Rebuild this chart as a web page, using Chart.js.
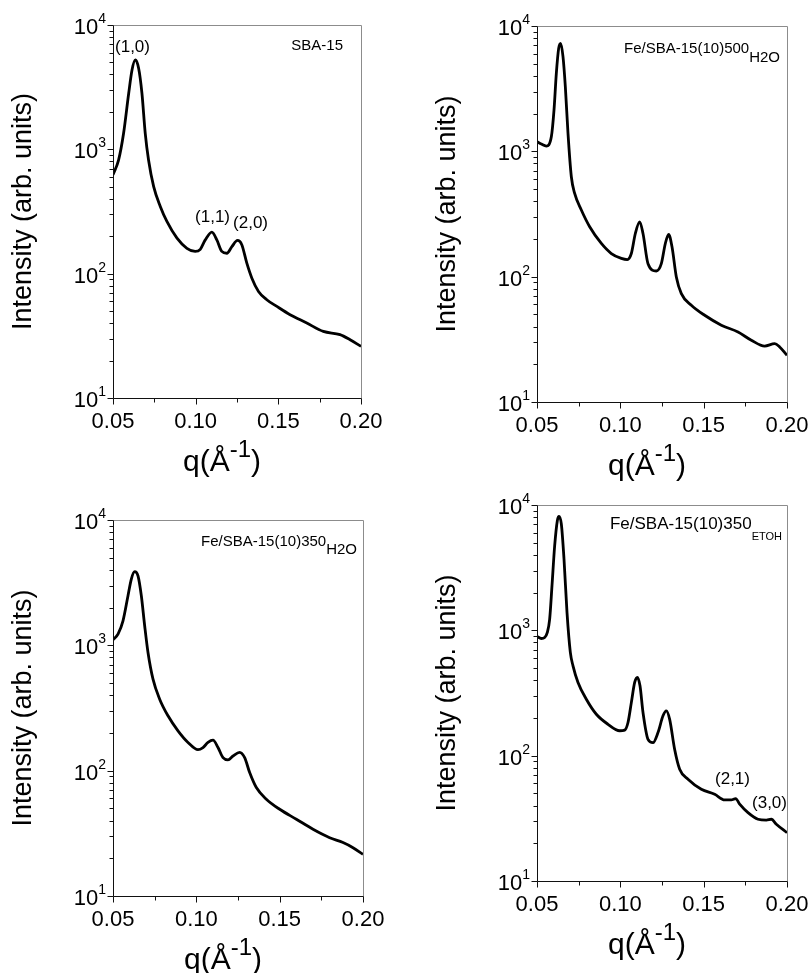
<!DOCTYPE html>
<html lang="en">
<head>
  <meta charset="UTF-8" />
  <title>SAXS patterns</title>
  <script src="https://cdn.jsdelivr.net/npm/chart.js"></script>
  <style>
    body { margin: 0; background: #fff; }
    #wrap { position: relative; width: 810px; height: 973px; }
    #wrap canvas { position: absolute; }
  </style>
</head>
<body>
  <div id="wrap">
    <canvas id="c1" width="405" height="486" style="left:0px;top:0px"></canvas>
    <canvas id="c2" width="405" height="486" style="left:405px;top:0px"></canvas>
    <canvas id="c3" width="405" height="487" style="left:0px;top:486px"></canvas>
    <canvas id="c4" width="405" height="487" style="left:405px;top:486px"></canvas>
  </div>

  <script>
    const FONT = "'Liberation Sans', Arial, sans-serif";

    // axis ticks
    const qTickLabels = ['0.05', '0.10', '0.15', '0.20'];
    const decades = [10, 100, 1000, 10000];

    // SBA-15
    const qSBA = [0.05, 0.0534, 0.0564, 0.0595, 0.0615, 0.0635, 0.0655, 0.0675, 0.0695, 0.0715,
      0.0746, 0.0786, 0.0826, 0.0887, 0.0947, 0.0997, 0.1028, 0.1058, 0.1098, 0.1128,
      0.1158, 0.1189, 0.1219, 0.1253, 0.1279, 0.1309, 0.134, 0.138, 0.143, 0.1491,
      0.1571, 0.1672, 0.1772, 0.1873, 0.1934, 0.20];
    const iSBA = [624, 822, 1346, 2825, 4350, 5240, 4490, 2825, 1346, 822,
      502, 347, 263, 193, 160, 151, 157, 187, 216, 187,
      151, 146, 165, 185, 171, 122, 92, 72, 61.7, 54.5,
      46.8, 40.1, 34.3, 32.3, 29.4, 26];

    // Fe/SBA-15(10)500 H2O
    const q500w = [0.05, 0.0526, 0.0556, 0.0586, 0.0602, 0.0616, 0.063, 0.0642, 0.0656, 0.067,
      0.0686, 0.0706, 0.0726, 0.0766, 0.0816, 0.0886, 0.0946, 0.1006, 0.1042, 0.1066,
      0.109, 0.1116, 0.1136, 0.1166, 0.1216, 0.1246, 0.127, 0.129, 0.131, 0.1336,
      0.1366, 0.1426, 0.1506, 0.1606, 0.1706, 0.1786, 0.1866, 0.1926, 0.1956, 0.20];
    const i500w = [1192, 1143, 1101, 1306, 2134, 4190, 6630, 7270, 5690, 3280,
      1390, 627, 461, 340, 250, 184, 153, 140, 137, 153,
      221, 274, 221, 127, 111, 127, 184, 217, 173, 99.5,
      73.3, 59.2, 49.2, 41, 36.2, 31.1, 27.9, 29.2, 27.5, 23.6];

    // Fe/SBA-15(10)350 H2O
    const q350w = [0.05, 0.053, 0.056, 0.059, 0.061, 0.063, 0.065, 0.067, 0.069, 0.071,
      0.074, 0.078, 0.083, 0.089, 0.095, 0.101, 0.104, 0.107, 0.11, 0.113,
      0.116, 0.119, 0.122, 0.126, 0.129, 0.132, 0.136, 0.142, 0.15, 0.16,
      0.17, 0.18, 0.188, 0.194, 0.20];
    const i350w = [1107, 1230, 1570, 2488, 3380, 3870, 3590, 2488, 1433, 877,
      537, 372, 274, 208, 168, 147, 153, 168, 175, 153,
      127, 122, 131, 140, 127, 96.6, 73.3, 59.2, 49.2, 41,
      34.1, 29.2, 26.7, 24.3, 21.5];

    // Fe/SBA-15(10)350 ETOH
    const q350e = [0.05, 0.0526, 0.0546, 0.0562, 0.0576, 0.059, 0.0606, 0.0622, 0.0632, 0.0646,
      0.0662, 0.068, 0.07, 0.0716, 0.0746, 0.0796, 0.0856, 0.0926, 0.0996, 0.1026,
      0.1046, 0.1066, 0.1086, 0.1102, 0.1118, 0.1136, 0.1166, 0.1196, 0.1226, 0.1256,
      0.1276, 0.1296, 0.1326, 0.1356, 0.1406, 0.1486, 0.1566, 0.1626, 0.1666, 0.1692,
      0.1716, 0.1766, 0.1826, 0.1876, 0.1906, 0.1936, 0.20];
    const i350e = [894, 861, 877, 962, 1230, 2270, 4730, 7500, 8120, 7050,
      3710, 1390, 667, 521, 384, 282, 214, 178, 158, 160,
      184, 265, 384, 421, 361, 221, 135, 127, 153, 208,
      228, 195, 112, 78, 64.9, 54, 49.2, 44.4, 44.4, 45.5,
      41, 35.1, 31.1, 30.6, 31.1, 28.4, 24.3];

    // minor + major tick values on the log axis
    const yTicks = [];
    decades.slice(0, -1).forEach(d => { for (let m = 1; m < 10; m++) yTicks.push(d * m); });
    yTicks.push(decades[decades.length - 1]);

    function isMajorQ(v) {
      return Math.abs(v * 20 - Math.round(v * 20)) < 1e-6;
    }

    // axes, ticks, labels and annotations
    const framePlugin = {
      id: 'frame',
      afterDraw(chart, args, opts) {
        const { ctx, chartArea: a, scales: { x, y } } = chart;
        const L = a.left + 0.5, B = a.bottom + 0.5, T = a.top + 0.5, R = a.right + 0.5;
        ctx.save();

        ctx.lineWidth = 1;
        ctx.strokeStyle = '#8c8c8c';
        ctx.beginPath();
        ctx.moveTo(L, T); ctx.lineTo(R, T); ctx.lineTo(R, B);
        ctx.stroke();

        ctx.strokeStyle = '#111';
        ctx.beginPath();
        ctx.moveTo(L, T); ctx.lineTo(L, B); ctx.lineTo(R, B);
        x.ticks.forEach(t => {
          const px = Math.round(x.getPixelForValue(t.value)) + 0.5;
          ctx.moveTo(px, B); ctx.lineTo(px, B + (isMajorQ(t.value) ? 6 : 4));
        });
        y.ticks.forEach(t => {
          const py = Math.round(y.getPixelForValue(t.value)) + 0.5;
          const major = decades.includes(t.value);
          ctx.moveTo(L, py); ctx.lineTo(L - (major ? 6 : 4), py);
        });
        ctx.stroke();

        ctx.fillStyle = '#000';
        ctx.textBaseline = 'alphabetic';

        // x tick labels
        ctx.font = `22px ${FONT}`;
        ctx.textAlign = 'center';
        qTickLabels.forEach(s => {
          ctx.fillText(s, x.getPixelForValue(parseFloat(s)), a.bottom + 30);
        });

        // y tick labels 10^n
        ctx.textAlign = 'right';
        decades.forEach(d => {
          const py = y.getPixelForValue(d);
          const exp = String(Math.round(Math.log10(d)));
          ctx.font = `14px ${FONT}`;
          const sw = ctx.measureText(exp).width;
          ctx.fillText(exp, a.left - 7, py - 2);
          ctx.font = `22px ${FONT}`;
          ctx.fillText('10', a.left - 7 - sw, py + 9);
        });

        // x title q(Å^-1)
        ctx.textAlign = 'left';
        ctx.font = `30px ${FONT}`;
        const w1 = ctx.measureText('q(Å').width;
        const wc = ctx.measureText(')').width;
        ctx.font = `24px ${FONT}`;
        const ws = ctx.measureText('-1').width;
        let tx = (a.left + a.right) / 2 - 15 - (w1 + ws + wc) / 2;
        const ty = a.bottom + 73;
        ctx.font = `30px ${FONT}`;
        ctx.fillText('q(Å', tx, ty);
        ctx.font = `24px ${FONT}`;
        ctx.fillText('-1', tx + w1, ty - 14);
        ctx.font = `30px ${FONT}`;
        ctx.fillText(')', tx + w1 + ws, ty);

        // y title
        ctx.save();
        ctx.translate(a.left - 89, (a.top + a.bottom) / 2);
        ctx.rotate(-Math.PI / 2);
        ctx.textAlign = 'center';
        ctx.textBaseline = 'middle';
        ctx.font = `27px ${FONT}`;
        ctx.fillText('Intensity (arb. units)', 0, 0);
        ctx.restore();

        // sample name with subscript, top right
        const s = opts.sample;
        ctx.textAlign = 'right';
        ctx.font = `${s.subSize}px ${FONT}`;
        const subW = s.sub ? ctx.measureText(s.sub).width : 0;
        if (s.sub) ctx.fillText(s.sub, a.right - s.dx, a.top + s.subDy);
        ctx.font = `${s.size}px ${FONT}`;
        ctx.fillText(s.main, a.right - s.dx - subW, a.top + s.dy);

        // reflection indices
        ctx.textAlign = 'center';
        ctx.font = `17px ${FONT}`;
        (opts.peaks || []).forEach(p => {
          ctx.fillText(p.text, x.getPixelForValue(p.q), y.getPixelForValue(p.v));
        });

        ctx.restore();
      }
    };

    const panels = [
      { id: 'c1', area: { l: 113, t: 25, r: 361, b: 398 }, q: qSBA, v: iSBA,
        sample: { main: 'SBA-15', sub: '', size: 15, subSize: 15, dx: 18, dy: 25, subDy: 25 },
        peaks: [
          { text: '(1,0)', q: 0.0618, v: 6070 },
          { text: '(1,1)', q: 0.1102, v: 260 },
          { text: '(2,0)', q: 0.1332, v: 233 }
        ] },
      { id: 'c2', area: { l: 537, t: 26, r: 787, b: 402 }, q: q500w, v: i500w,
        sample: { main: 'Fe/SBA-15(10)500', sub: 'H2O', size: 15, subSize: 15, dx: 7, dy: 27, subDy: 36 },
        peaks: [] },
      { id: 'c3', area: { l: 113, t: 520, r: 363, b: 896 }, q: q350w, v: i350w,
        sample: { main: 'Fe/SBA-15(10)350', sub: 'H2O', size: 15, subSize: 15, dx: 6, dy: 26, subDy: 34 },
        peaks: [] },
      { id: 'c4', area: { l: 537, t: 505, r: 787, b: 881 }, q: q350e, v: i350e,
        sample: { main: 'Fe/SBA-15(10)350', sub: 'ETOH', size: 17, subSize: 11, dx: 5, dy: 24, subDy: 35 },
        peaks: [
          { text: '(2,1)', q: 0.1673, v: 59.3 },
          { text: '(3,0)', q: 0.1895, v: 38.2 }
        ] }
    ];

    panels.forEach(p => {
      const canvas = document.getElementById(p.id);
      const cx = parseFloat(canvas.style.left);
      const cy = parseFloat(canvas.style.top);
      const W = canvas.width, H = canvas.height;

      new Chart(canvas.getContext('2d'), {
        type: 'line',
        data: {
          datasets: [{
            data: p.q.map((q, i) => ({ x: q, y: p.v[i] })),
            borderColor: '#000',
            borderWidth: 2.8,
            pointRadius: 0,
            fill: false,
            cubicInterpolationMode: 'monotone'
          }]
        },
        options: {
          responsive: false,
          animation: false,
          layout: { padding: { top: p.area.t - cy, right: cx + W - p.area.r, left: 0, bottom: 0 } },
          plugins: {
            legend: { display: false },
            tooltip: { enabled: false },
            frame: { sample: p.sample, peaks: p.peaks }
          },
          scales: {
            x: {
              type: 'linear', min: 0.05, max: 0.2,
              ticks: { display: false, stepSize: 0.025 },
              grid: { display: false },
              border: { display: false },
              afterFit: s => { s.height = cy + H - p.area.b; }
            },
            y: {
              type: 'logarithmic', min: 10, max: 10000,
              ticks: { display: false },
              grid: { display: false },
              border: { display: false },
              afterBuildTicks: s => { s.ticks = yTicks.map(v => ({ value: v })); },
              afterFit: s => { s.width = p.area.l - cx; }
            }
          }
        },
        plugins: [framePlugin]
      });
    });
  </script>
</body>
</html>
